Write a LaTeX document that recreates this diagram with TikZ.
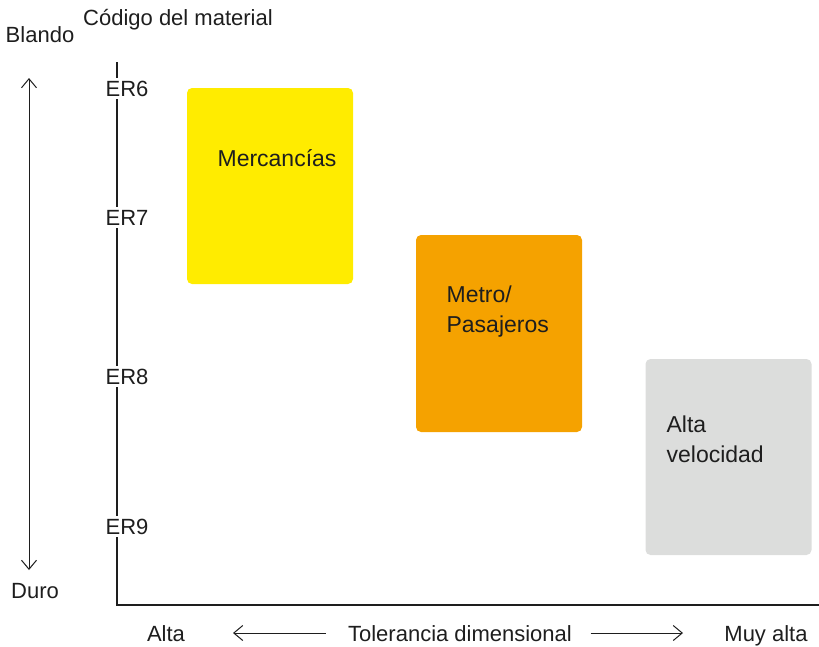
\documentclass[tikz,border=0pt]{standalone}
\usepackage{fontspec}
\setmainfont{Liberation Sans}
\usetikzlibrary{arrows.meta, positioning}
\definecolor{cyellow}{HTML}{FFEC00}
\definecolor{corange}{HTML}{F5A200}
\definecolor{cgrey}{HTML}{DCDDDC}
\definecolor{cink}{HTML}{1E1E1E}
\tikzset{
  every picture/.style={x=1pt, y=-1pt, line width=1.2pt},
  barb/.tip={Straight Barb[length=9pt, width=15pt]},
  txt/.style={font=\fontsize{22}{29}\selectfont, text=cink, inner sep=0pt, anchor=base west},
  ztxt/.style={txt, font=\fontsize{23}{30}\selectfont},
  lbl/.style={txt, anchor=base},
  tick/.style={txt, anchor=base, fill=white, inner xsep=0pt, inner ysep=3pt},
  zone/.style={fill=#1, rounded corners=5pt, inner sep=0pt},
  arr/.style={-barb, draw=cink, line width=1pt},
}

\begin{document}
\begin{tikzpicture}
  \useasboundingbox (0,0) rectangle (819,646);
  % axes
  \draw[cink] (117,62) -- (117,605) -- (819,605);
  \foreach \lv/\y in {6/96, 7/225, 8/384, 9/534} {\node[tick] (er\lv) at (127,\y) {ER\lv};}
  \node[lbl] (code) at (178,25) {Código del material};
  % hardness
  \node[lbl] (soft) at (40,42) {Blando};
  \node[lbl] (hard) at (35,598) {Duro};
  \coordinate (softend) at (29,78);
  \coordinate (hardend) at (29,570);
  \draw[arr, barb-barb] (hardend) -- (softend);
  % tolerance
  \node[lbl] (low) at (166,641) {Alta};
  \node[lbl] (tol) at (460,641) {Tolerancia dimensional};
  \node[lbl] (high) at (766,641) {Muy alta};
  \coordinate (lowend) at (233,633);
  \coordinate (highend) at (683,633);
  \draw[arr] ([xshift=-22pt]tol.west |- lowend) -- (lowend);
  \draw[arr] ([xshift=18pt]tol.east |- highend) -- (highend);
  % zones
  \node[zone=cyellow, minimum width=166, minimum height=196] (freight) at (270,186) {};
  \node[zone=corange, minimum width=166, minimum height=197] (metro) at (499,333.5) {};
  \node[zone=cgrey, minimum width=166, minimum height=196] (hsr) at (728.5,457) {};
  \node[ztxt] (freightlbl) at (217,166) {Mercancías};
  \node[ztxt] (metrolbla) at (446,302) {Metro/};
  \node[ztxt] (metrolblb) at (446,332) {Pasajeros};
  \node[ztxt] (hsrlbla) at (666,432) {Alta};
  \node[ztxt] (hsrlblb) at (666,462) {velocidad};
\end{tikzpicture}
\end{document}
